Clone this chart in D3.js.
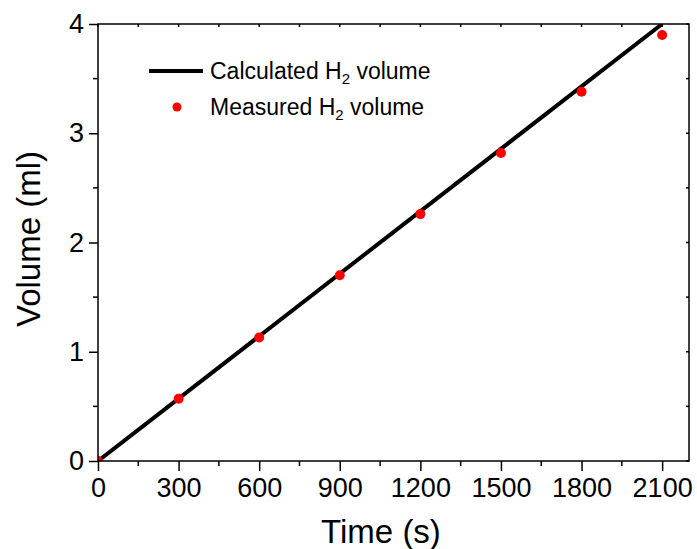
<!DOCTYPE html>
<html>
<head>
<meta charset="utf-8">
<script src="https://cdn.jsdelivr.net/npm/d3@7"></script>
<style>
  body { margin: 0; background: #fff; }
  text { font-family: Arial, "Liberation Sans", sans-serif; fill: #000; }
</style>
</head>
<body>
<script>
var w = 697;
var h = 549;

// data
var measuredTime = [0, 300, 600, 900, 1200, 1500, 1800, 2100];
var measuredVolume = [0, 0.57, 1.13, 1.70, 2.26, 2.82, 3.38, 3.90];
var calcTime = [0, 2100];
var calcVolume = [0, 4.0];
var xTicks = [0, 300, 600, 900, 1200, 1500, 1800, 2100];
var yTicks = [0, 1, 2, 3, 4];

var padL = 98, padR = 689, padT = 24, padB = 461;

var x = d3.scaleLinear().domain([0, 2200]).range([padL, padR]);
var y = d3.scaleLinear().domain([0, 4]).range([padB, padT]);

var svg = d3.select("body").append("svg")
    .attr("width", w)
    .attr("height", h);

svg.append("defs").append("clipPath").attr("id", "plotclip")
    .append("rect")
    .attr("x", padL).attr("y", padT)
    .attr("width", padR - padL).attr("height", padB - padT);

// minor tick positions (half way between majors)
var xMinor = d3.range(150, 2200, 300);
var yMinor = d3.range(0.5, 4, 1);

// bottom axis
var xAxis = d3.axisBottom(x).tickValues(xTicks).tickSize(10).tickPadding(6).tickFormat(d3.format("d"));
var gx = svg.append("g").attr("transform", "translate(0," + padB + ")").call(xAxis);
gx.select(".domain").remove();
gx.selectAll("line").attr("stroke", "#000").attr("stroke-width", 1.5);
gx.selectAll("text").attr("font-size", "27px").attr("dy", "0.75em");
gx.selectAll(".minor").data(xMinor).enter().append("line")
    .attr("class", "minor")
    .attr("x1", function(d){ return x(d); }).attr("x2", function(d){ return x(d); })
    .attr("y1", 0).attr("y2", 5)
    .attr("stroke", "#000").attr("stroke-width", 1.5);

// left axis
var yAxis = d3.axisLeft(y).tickValues(yTicks).tickSize(9).tickPadding(5).tickFormat(d3.format("d"));
var gy = svg.append("g").attr("transform", "translate(" + padL + ",0)").call(yAxis);
gy.select(".domain").remove();
gy.selectAll("line").attr("stroke", "#000").attr("stroke-width", 1.5);
gy.selectAll("text").attr("font-size", "27px");
gy.selectAll(".minor").data(yMinor).enter().append("line")
    .attr("class", "minor")
    .attr("y1", function(d){ return y(d); }).attr("y2", function(d){ return y(d); })
    .attr("x1", 0).attr("x2", -5)
    .attr("stroke", "#000").attr("stroke-width", 1.5);

// top and right inward ticks
var topTicks = xTicks.concat(xMinor);
svg.append("g").selectAll("line").data(topTicks).enter().append("line")
    .attr("x1", function(d){ return x(d); }).attr("x2", function(d){ return x(d); })
    .attr("y1", padT).attr("y2", padT + 3)
    .attr("stroke", "#000").attr("stroke-width", 1.5);
var rightTicks = yTicks.concat(yMinor);
svg.append("g").selectAll("line").data(rightTicks).enter().append("line")
    .attr("y1", function(d){ return y(d); }).attr("y2", function(d){ return y(d); })
    .attr("x1", padR).attr("x2", padR - 3)
    .attr("stroke", "#000").attr("stroke-width", 1.5);

var plot = svg.append("g").attr("clip-path", "url(#plotclip)");

// calculated line
var calc = calcTime.map(function(t, i){ return [t, calcVolume[i]]; });
var line = d3.line().x(function(d){ return x(d[0]); }).y(function(d){ return y(d[1]); });
plot.append("path").datum(calc)
    .attr("d", line)
    .attr("fill", "none").attr("stroke", "#000").attr("stroke-width", 4);

// measured points
var meas = measuredTime.map(function(t, i){ return [t, measuredVolume[i]]; });
plot.append("g").selectAll("circle").data(meas).enter().append("circle")
    .attr("cx", function(d){ return x(d[0]); })
    .attr("cy", function(d){ return y(d[1]); })
    .attr("r", 5)
    .attr("fill", "#ff0000");

// frame
svg.append("rect")
    .attr("x", padL).attr("y", padT)
    .attr("width", padR - padL).attr("height", padB - padT)
    .attr("fill", "none").attr("stroke", "#000").attr("stroke-width", 1.5);

// legend
var lg = svg.append("g");
lg.append("line").attr("x1", 149).attr("x2", 203).attr("y1", 71).attr("y2", 71)
    .attr("stroke", "#000").attr("stroke-width", 4);
lg.append("circle").attr("cx", 177).attr("cy", 107).attr("r", 4.5).attr("fill", "#ff0000");
var t1 = lg.append("text").attr("x", 210).attr("y", 79).attr("font-size", "23px");
t1.append("tspan").text("Calculated H");
t1.append("tspan").attr("font-size", "15px").attr("dy", 5).text("2");
t1.append("tspan").attr("dy", -5).text(" volume");
var t2 = lg.append("text").attr("x", 210).attr("y", 115).attr("font-size", "23px");
t2.append("tspan").text("Measured H");
t2.append("tspan").attr("font-size", "15px").attr("dy", 5).text("2");
t2.append("tspan").attr("dy", -5).text(" volume");

// axis titles
svg.append("text").attr("x", 381).attr("y", 543)
    .attr("text-anchor", "middle").attr("font-size", "33px").text("Time (s)");
svg.append("text").attr("transform", "translate(40,239) rotate(-90)")
    .attr("text-anchor", "middle").attr("font-size", "33px").text("Volume (ml)");
</script>
</body>
</html>
